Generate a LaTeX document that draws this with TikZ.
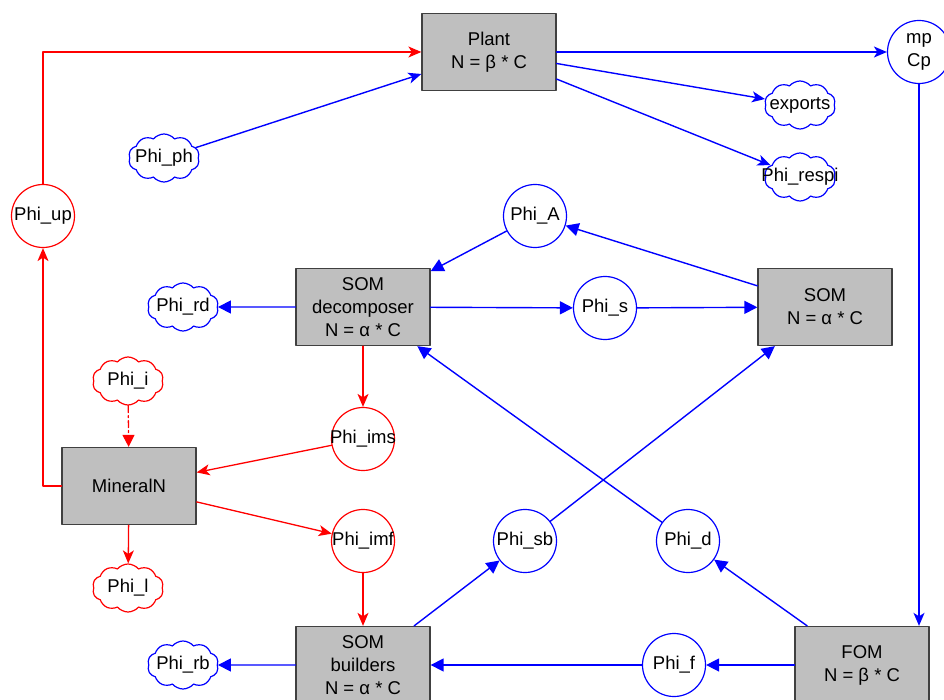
\documentclass[tikz,border=0pt]{standalone}
\usepackage{fontspec}
\setmainfont{Liberation Sans}
\usetikzlibrary{arrows.meta,shapes.symbols}

\begin{document}
\begin{tikzpicture}[x=1pt, y=-1pt, line cap=round, line join=round,
    font=\fontsize{18.5}{23}\selectfont,
    stock/.style={rectangle, draw=black!75, fill=black!25, line width=1.3pt,
        minimum width=134pt, minimum height=77pt, inner sep=0pt, align=center},
    flux/.style={circle, draw=#1, line width=1.2pt, minimum size=63pt, inner sep=0pt},
    flux/.default=blue,
    sink/.style={cloud, cloud puffs=10, cloud puff arc=100, draw=#1, line width=1.2pt,
        minimum width=71pt, minimum height=48pt, inner sep=0pt},
    sink/.default=blue,
    redflow/.style={draw=red, line width=1.3pt, -{Stealth[length=13pt, width=11pt, inset=3.5pt]}},
    blueflow/.style={draw=blue, line width=1.4pt, -{Stealth[length=13pt, width=11pt, inset=3.5pt]}},
    bluehead/.style={draw=blue, line width=1.4pt, -{Triangle[length=13pt, width=13pt]}}]

\useasboundingbox (0,0) rectangle (944,700);

% Stocks
\node[stock] (plant) at (489,52) {Plant\\N = β * C};
\node[stock] (dec) at (363,307) {SOM\\decomposer\\N = α * C};
\node[stock] (som) at (825,307) {SOM\\N = α * C};
\node[stock] (mineral) at (129,486) {MineralN};
\node[stock] (bld) at (363,665) {SOM\\builders\\N = α * C};
\node[stock] (fom) at (862,665) {FOM\\N = β * C};

% Fluxes (circles) ---------------------------------------
\node[flux, align=center] (mp) at (919,52) {mp\\Cp};
\node[flux=red, label=center:{Phi\_up}] (up) at (43,216) {};
\node[flux, label=center:{Phi\_A}] (A) at (535,216) {};
\node[flux, label=center:{Phi\_s}] (s) at (605,308) {};
\node[flux=red, label=center:{Phi\_ims}] (ims) at (363,439) {};
\node[flux=red, label=center:{Phi\_imf}] (imf) at (363,541) {};
\node[flux, label=center:{Phi\_sb}] (sb) at (525,541) {};
\node[flux, label=center:{Phi\_d}] (d) at (688,541) {};
\node[flux, label=center:{Phi\_f}] (f) at (674,665) {};

% Sources and sinks (clouds) -----------------------------
\node[sink, label=center:{Phi\_ph}] (ph) at (164,158) {};
\node[sink, label=center:{exports}] (exports) at (800,105) {};
\node[sink, label=center:{Phi\_respi}] (respi) at (800,177) {};
\node[sink, label=center:{Phi\_rd}] (rd) at (183,307) {};
\node[sink=red, label=center:{Phi\_i}] (i) at (128,381) {};
\node[sink=red, label=center:{Phi\_l}] (l) at (128,588) {};
\node[sink, label=center:{Phi\_rb}] (rb) at (183,665) {};

% Plant flows
\draw[redflow] (up.north) |- (plant.west);
\draw[redflow] (mineral.west) -| (up.south);
\draw[blueflow] (ph) -- (plant);
\draw[blueflow] (plant) -- (mp);
\draw[blueflow] (plant) -- (exports);
\draw[blueflow] (plant) -- (respi);
\draw[blueflow] (mp.south) -- (mp.south |- fom.north);

% SOM flows
\draw[bluehead] (som) -- (A);
\draw[bluehead] (A) -- (dec);
\draw[bluehead] (dec) -- (rd);
\draw[bluehead] (dec) -- (s);
\draw[bluehead] (s) -- (som);
\draw[bluehead] (fom) -- (d);
\draw[bluehead] (d) -- (dec);
\draw[bluehead] (bld) -- (sb);
\draw[bluehead] (sb) -- (som);
\draw[bluehead] (fom) -- (f);
\draw[bluehead] (f) -- (bld);
\draw[bluehead] (bld) -- (rb);

% Mineral N flows
\draw[redflow] (dec) -- (ims);
\draw[redflow] (ims) -- (mineral);
\draw[redflow] (mineral) -- (imf);
\draw[redflow] (imf) -- (bld);
\draw[redflow] (mineral) -- (l);
\draw[redflow, dash pattern=on 7pt off 3pt on 2pt off 3pt,
    -{Triangle[length=12pt, width=12pt]}] (i) -- (mineral);

\end{tikzpicture}
\end{document}
